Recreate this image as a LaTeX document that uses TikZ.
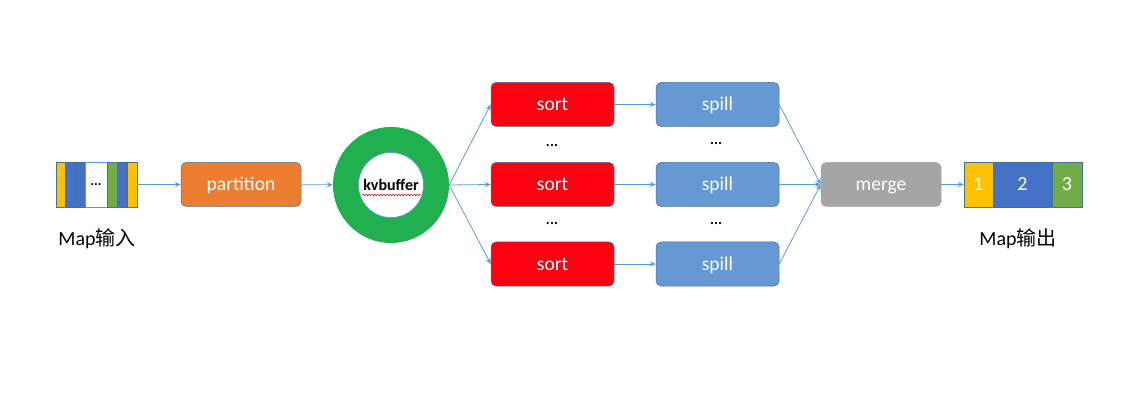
\documentclass[tikz,border=0pt]{standalone}
\usepackage{fontspec}
\setmainfont{Carlito}
\newfontfamily\cjk{Noto Sans CJK SC}
\usepackage{tikz}
\usetikzlibrary{positioning,arrows.meta,calc,decorations.pathmorphing}
\usepackage{xcolor}
\definecolor{cellyellow}{RGB}{255,192,0}
\definecolor{cellblue}{RGB}{68,114,196}
\definecolor{cellgreen}{RGB}{112,173,71}
\definecolor{partorange}{RGB}{237,125,49}
\definecolor{ringgreen}{RGB}{32,176,80}
\definecolor{sortred}{RGB}{255,0,16}
\definecolor{spillblue}{RGB}{102,153,212}
\definecolor{mergegray}{RGB}{165,165,165}
\definecolor{flowblue}{RGB}{91,155,213}
\definecolor{edgeblue}{RGB}{65,113,156}

\begin{document}
\begin{tikzpicture}[x=1pt,y=-1pt,
  cell/.style={rectangle,draw=edgeblue,line width=0.5pt,minimum height=45pt,
    inner sep=0pt,text=white,font=\fontsize{20}{24}\selectfont},
  stage/.style={rectangle,rounded corners=5pt,draw=edgeblue,line width=0.5pt,
    text=white,font=\fontsize{19.5}{23}\selectfont,text height=14pt,text depth=2pt,
    minimum width=123pt,minimum height=44pt},
  dots/.style={font=\fontsize{15}{16}\selectfont\bfseries,inner sep=0pt},
  caption/.style={font=\fontsize{20}{24}\selectfont,inner sep=0pt},
  flow/.style={-{Stealth[length=6pt,width=5pt]},flowblue,line width=0.8pt}
]
\useasboundingbox (0,0) rectangle (1121,403);

% map input
\node[cell,fill=cellyellow,minimum width=9pt] (in1) at (60.5,184.5) {};
\node[cell,fill=cellblue,minimum width=10pt] (in2) at (70,184.5) {};
\node[cell,fill=cellblue,minimum width=10pt] (in3) at (80,184.5) {};
\node[cell,fill=white,draw=flowblue,text=black,minimum width=22pt,font=\fontsize{14}{16}\selectfont\bfseries] (in4) at (96,184.5) {...};
\node[cell,fill=cellgreen,minimum width=10pt] (in5) at (112,184.5) {};
\node[cell,fill=cellblue,minimum width=10pt] (in6) at (122,184.5) {};
\node[cell,fill=cellyellow,minimum width=10pt] (in7) at (132,184.5) {};
\node[caption] (inlabel) at (97,239) {Map{\cjk 输入}};

\node[stage,fill=partorange,minimum width=120pt] (part) at (241,184.5) {partition};

% kvbuffer ring
\node[circle,fill=ringgreen,minimum size=116pt,inner sep=0pt] (ring) at (391,185) {};
\node[circle,fill=white,draw=flowblue,line width=0.6pt,minimum size=65pt,inner sep=0pt,
  font=\fontsize{16}{18}\selectfont\bfseries] (kv) at (391,185) {kvbuffer};
\draw[red,line width=0.5pt,decorate,decoration={snake,amplitude=0.8pt,segment length=3pt}]
  ($(kv.center)+(-29,10)$) -- ($(kv.center)+(30,10)$);

\node[stage,fill=sortred] (sort1) at (552.5,104.5) {sort};
\node[stage,fill=sortred] (sort2) at (552.5,184.5) {sort};
\node[stage,fill=sortred] (sort3) at (552.5,264) {sort};
\node[stage,fill=spillblue] (spill1) at (717.5,104.5) {spill};
\node[stage,fill=spillblue] (spill2) at (717.5,184.5) {spill};
\node[stage,fill=spillblue] (spill3) at (717.5,264) {spill};
\node[dots] (d1) at (552,145) {...};
\node[dots] (d2) at (552,223) {...};
\node[dots] (d3) at (716,143) {...};
\node[dots] (d4) at (716,223) {...};

\node[stage,fill=mergegray,draw=mergegray,minimum width=120pt] (merge) at (881,184.5) {merge};

% map output
\node[cell,fill=cellyellow,minimum width=29pt] (out1) at (978.5,184.5) {1};
\node[cell,fill=cellblue,minimum width=59pt] (out2) at (1022.5,184.5) {2};
\node[cell,fill=cellgreen,minimum width=30pt] (out3) at (1067,184.5) {3};
\node[caption] (outlabel) at (1018,239) {Map{\cjk 输出}};

\draw[flow] (in7) -- (part);
\draw[flow] (part) -- (ring);
\draw[flow] (ring.east) -- (sort1.west);
\draw[flow] (ring.east) -- (sort2.west);
\draw[flow] (ring.east) -- (sort3.west);
\draw[flow] (sort1) -- (spill1);
\draw[flow] (sort2) -- (spill2);
\draw[flow] (sort3) -- (spill3);
\draw[flow] (spill1.east) -- (merge.west);
\draw[flow] (spill2.east) -- (merge.west);
\draw[flow] (spill3.east) -- (merge.west);
\draw[flow] (merge) -- (out1);
\end{tikzpicture}
\end{document}
